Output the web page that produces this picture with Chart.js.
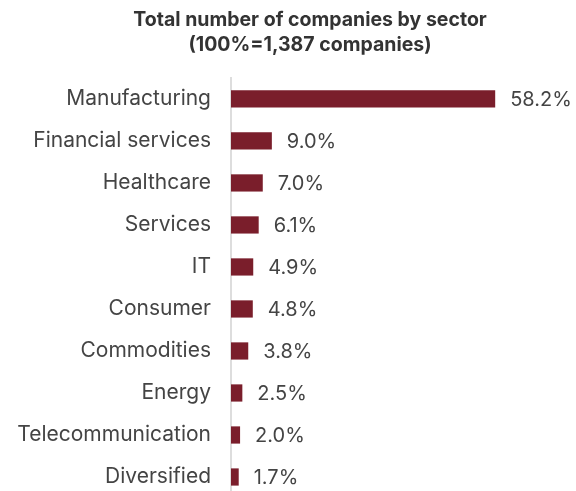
<!DOCTYPE html>
<html>
<head>
<meta charset="utf-8">
<script src="https://cdn.jsdelivr.net/npm/chart.js@4"></script>
<style>
  html, body { margin: 0; padding: 0; background: #fff; overflow: hidden; }
</style>
</head>
<body>
<canvas id="myChart" width="576" height="500" style="width:576px;height:500px;display:block"></canvas>
<script>
const sectors = ['Manufacturing', 'Financial services', 'Healthcare', 'Services', 'IT',
    'Consumer', 'Commodities', 'Energy', 'Telecommunication', 'Diversified']
const shares = [58.2, 9.0, 7.0, 6.1, 4.9, 4.8, 3.8, 2.5, 2.0, 1.7]
const titleLines = ['Total number of companies by sector', '(100%=1,387 companies)']

const fontFamily = 'Inter, "Noto Sans", sans-serif'

// draw the percentage next to each bar
const valueLabels = {
    id: 'valueLabels',
    afterDatasetsDraw (chart) {
        const ctx = chart.ctx
        const meta = chart.getDatasetMeta(0)
        ctx.save()
        ctx.font = '20px ' + fontFamily
        ctx.fillStyle = '#444'
        ctx.textAlign = 'left'
        ctx.textBaseline = 'middle'
        meta.data.forEach((bar, i) => {
            ctx.fillText(shares[i].toFixed(1) + '%', bar.x + 15, bar.y + 1)
        })
        ctx.restore()
    }
}

// title sits a little right of the canvas centre
const shiftTitle = {
    id: 'shiftTitle',
    afterLayout (chart) {
        if (chart.titleBlock) chart.titleBlock.left = 44
    }
}

const ctx = document.getElementById('myChart')
new Chart(ctx, {
    type: 'bar',
    data: {
        labels: sectors,
        datasets: [{
            data: shares,
            backgroundColor: '#7a1e2b',
            barPercentage: 0.41,
            categoryPercentage: 1,
        }]
    },
    options: {
        indexAxis: 'y',
        responsive: false,
        devicePixelRatio: 1,
        animation: false,
        layout: { padding: { left: 0, right: 0, top: 0, bottom: 2 } },
        plugins: {
            legend: { display: false },
            tooltip: { enabled: false },
            title: {
                display: true,
                text: titleLines,
                color: '#333',
                font: { family: fontFamily, size: 19.5, weight: 'bold', lineHeight: 1.28 },
                padding: { top: 8, bottom: 20 },
            },
        },
        scales: {
            x: {
                min: 0,
                max: 76,
                display: false,
            },
            y: {
                afterFit: s => {
                    s.width = 231
                    s.paddingTop = 0
                    s.paddingBottom = 0
                },
                grid: { display: false },
                border: { display: true, color: '#ddd', width: 2 },
                ticks: {
                    color: '#444',
                    padding: 12,
                    font: { family: fontFamily, size: 21 },
                },
            },
        },
    },
    plugins: [valueLabels, shiftTitle],
})
</script>
</body>
</html>
